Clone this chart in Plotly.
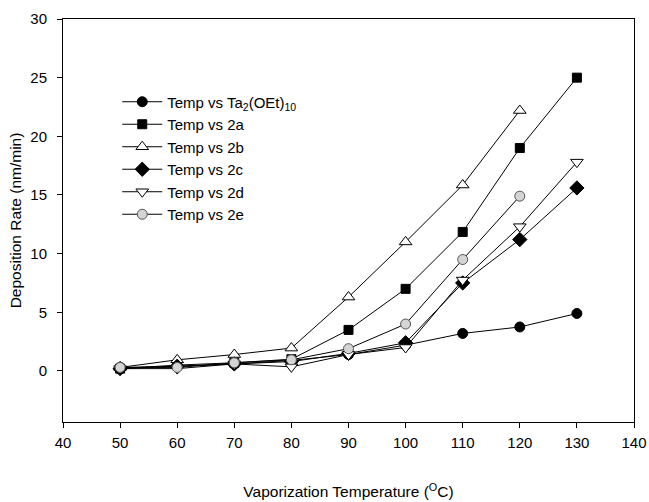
import plotly.graph_objects as go

temps = [50, 60, 70, 80, 90, 100, 110, 120, 130]
temps_short = [50, 60, 70, 80, 90, 100, 110, 120]

ta_oet = [0.3, 0.4, 0.6, 0.9, 1.4, 2.2, 3.2, 3.75, 4.9]
s2a = [0.2, 0.5, 0.7, 1.0, 3.5, 7.0, 11.85, 19.0, 25.0]
s2b = [0.3, 0.95, 1.4, 1.95, 6.3, 11.0, 15.85, 22.2]
s2c = [0.2, 0.4, 0.6, 0.8, 1.5, 2.4, 7.5, 11.2, 15.6]
s2d = [0.2, 0.2, 0.6, 0.35, 1.4, 2.0, 7.75, 12.3, 17.8]
s2e = [0.3, 0.3, 0.7, 0.95, 1.9, 4.0, 9.5, 14.9]

names = ["Temp vs Ta<sub>2</sub>(OEt)<sub>10</sub>", "Temp vs 2a", "Temp vs 2b",
         "Temp vs 2c", "Temp vs 2d", "Temp vs 2e"]

fig = go.Figure()

def add(x, y, name, symbol, fill, line_color="black", size=10):
    fig.add_trace(go.Scatter(
        x=x, y=y, name=name, mode="lines+markers",
        line=dict(color="black", width=1),
        marker=dict(symbol=symbol, size=size, color=fill,
                    line=dict(color=line_color, width=1)),
    ))

add(temps, ta_oet, names[0], "circle", "black", size=10)
add(temps, s2a, names[1], "square", "black", size=9)
add(temps_short, s2b, names[2], "triangle-up", "white", size=11)
add(temps, s2c, names[3], "diamond", "black", size=11)
add(temps, s2d, names[4], "triangle-down", "white", size=11)
add(temps_short, s2e, names[5], "circle", "#d4d4d4", line_color="#555555", size=10)

axis_common = dict(
    showline=True, linecolor="black", linewidth=1, mirror=True,
    ticks="outside", ticklen=5, tickcolor="black",
    showgrid=False, zeroline=False, automargin=False,
    tickfont=dict(family="Liberation Sans, Arial", size=15, color="black"),
)

fig.update_layout(
    width=649, height=502,
    margin=dict(l=63, r=15, t=19, b=80),
    paper_bgcolor="white", plot_bgcolor="white",
    font=dict(family="Liberation Sans, Arial", size=15, color="black"),
    xaxis=dict(range=[40, 140], dtick=10, tick0=40, ticklabelstandoff=2,
               title=dict(text="Vaporization Temperature (<sup>O</sup>C)",
                          font=dict(size=15.5), standoff=36),
               **axis_common),
    yaxis=dict(range=[-4.35, 30], tickvals=[0, 5, 10, 15, 20, 25, 30],
               ticklabelstandoff=7,
               title=dict(text="Deposition Rate (nm/min)", font=dict(size=15.5), standoff=4),
               **axis_common),
    legend=dict(x=0.095, y=0.835, xanchor="left", yanchor="top",
                bgcolor="rgba(0,0,0,0)", font=dict(size=15),
                itemwidth=40, tracegroupgap=0),
    showlegend=True,
)

fig.write_html("out.html", config={"displayModeBar": False},
               post_script="document.body.style.margin='0px';")
